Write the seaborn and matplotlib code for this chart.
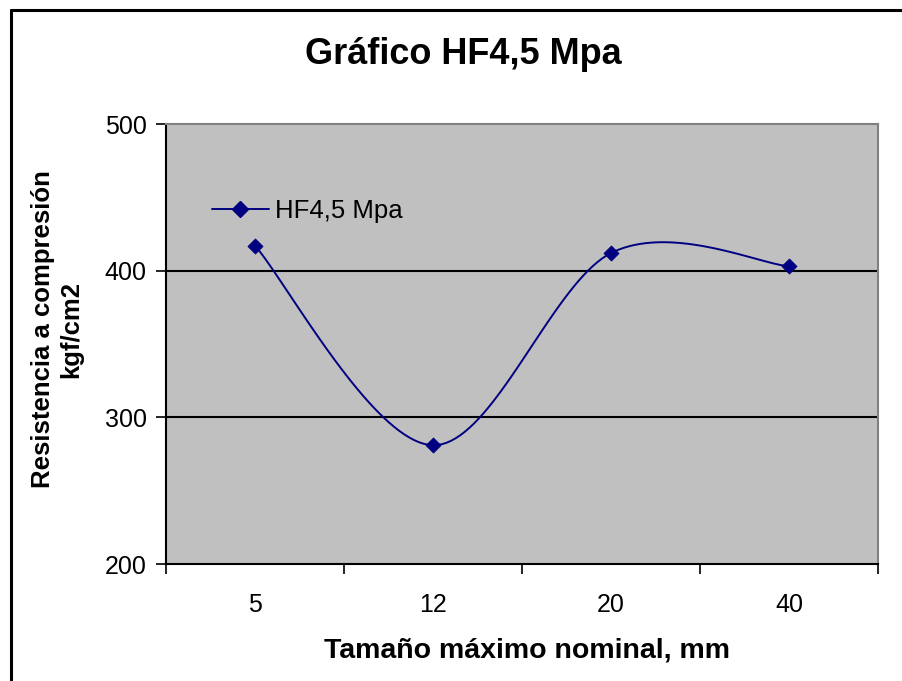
import numpy as np
import pandas as pd
import matplotlib
matplotlib.use("Agg")
import matplotlib.pyplot as plt
import seaborn as sns
from matplotlib.lines import Line2D

# ---- data ----
categories = ["5", "12", "20", "40"]
values = [417, 281, 412, 403]
series_name = "HF4,5 Mpa"
title_text = "Gráfico HF4,5 Mpa"
xlabel_text = "Tamaño máximo nominal, mm"
ylabel_text = "Resistencia a compresión\nkgf/cm2"
yticks = [200, 300, 400, 500]

sns.set_theme(style="white")
plt.rcParams['font.family'] = ['Liberation Sans', 'DejaVu Sans']
plt.rcParams['text.color'] = 'black'
plt.rcParams['xtick.color'] = 'black'
plt.rcParams['ytick.color'] = 'black'
plt.rcParams['axes.labelcolor'] = 'black'

W, H = 902, 681
fig = plt.figure(figsize=(W / 100, H / 100), dpi=100)
fig.patch.set_facecolor("white")

L, R, T, B = 166, 878, 124, 564
ax = fig.add_axes([L / W, 1 - B / H, (R - L) / W, (B - T) / H])
ax.set_facecolor("#C0C0C0")

# smoothed curve (Excel-like Catmull-Rom / Bezier smoothing)
xs = np.arange(len(categories), dtype=float)
ys = np.array(values, dtype=float)
P = np.column_stack([xs, ys])
curve = []
n = len(P)
t = np.linspace(0, 1, 40)
for i in range(n - 1):
    p0 = P[i - 1] if i > 0 else P[i]
    p1 = P[i]
    p2 = P[i + 1]
    p3 = P[i + 2] if i + 2 < n else P[i + 1]
    c1 = p1 + (p2 - p0) / 6
    c2 = p2 - (p3 - p1) / 6
    seg = ((1 - t) ** 3)[:, None] * p1 + (3 * (1 - t) ** 2 * t)[:, None] * c1 \
        + (3 * (1 - t) * t ** 2)[:, None] * c2 + (t ** 3)[:, None] * p2
    curve.append(seg if i == 0 else seg[1:])
curve = np.vstack(curve)
df_curve = pd.DataFrame({"x": curve[:, 0], "y": curve[:, 1]})
df_pts = pd.DataFrame({"x": xs, "y": ys})

for yv in [300, 400]:
    ax.axhline(yv, color="black", lw=1.5, zorder=1)

sns.lineplot(data=df_curve, x="x", y="y", sort=False, color="#000080", lw=1.4, ax=ax, zorder=3)
sns.scatterplot(data=df_pts, x="x", y="y", marker="D", s=60, color="#000080",
                edgecolor="#000080", linewidth=0.5, ax=ax, zorder=4)

ax.set_xlim(-0.5, len(categories) - 0.5)
ax.set_ylim(200, 500)
ax.set_yticks(yticks)
ax.set_yticklabels([str(v) for v in yticks], fontsize=18)
ax.set_xticks(np.arange(-0.5, len(categories), 1.0))
ax.set_xticklabels([])
ax.set_xticks(xs, minor=True)
ax.set_xticklabels(categories, minor=True, fontsize=18)
ax.tick_params(axis="x", which="major", direction="out", length=7, width=1.2, color="black", bottom=True)
ax.tick_params(axis="x", which="minor", length=0, pad=21)
ax.tick_params(axis="y", direction="out", length=7, width=1.2, color="black", left=True, pad=7)
ax.set_xlabel("")
ax.set_ylabel("")

for s in ["left", "bottom"]:
    ax.spines[s].set_color("black")
    ax.spines[s].set_linewidth(1.5)
for s in ["top", "right"]:
    ax.spines[s].set_color("#808080")
    ax.spines[s].set_linewidth(1.5)

handle = Line2D([], [], color="#000080", lw=1.4, marker="D", markersize=8)
ax.legend([handle], [series_name], loc="center left",
          bbox_to_anchor=((212 - L) / (R - L), (B - 211) / (B - T)),
          frameon=False, fontsize=18.5, handlelength=2.2, handletextpad=0.25,
          borderpad=0, borderaxespad=0, labelcolor="black")

fig.text(463 / W, 1 - 55 / H, title_text, ha="center", va="center", fontsize=26, fontweight="bold")
fig.text(527 / W, 1 - 650 / H, xlabel_text, ha="center", va="center", fontsize=20.5, fontweight="bold")
fig.text(57 / W, 1 - 329 / H, ylabel_text, ha="center", va="center", rotation=90,
         fontsize=18.5, fontweight="bold", linespacing=1.2, multialignment="center")

# outer chart border
fig.add_artist(Line2D([11 / W, 11 / W], [0, 1 - 10 / H], color="black", lw=2.2, transform=fig.transFigure))
fig.add_artist(Line2D([11 / W, 1.0], [1 - 10 / H, 1 - 10 / H], color="black", lw=2.2, transform=fig.transFigure))

fig.savefig("out.png", dpi=100)
